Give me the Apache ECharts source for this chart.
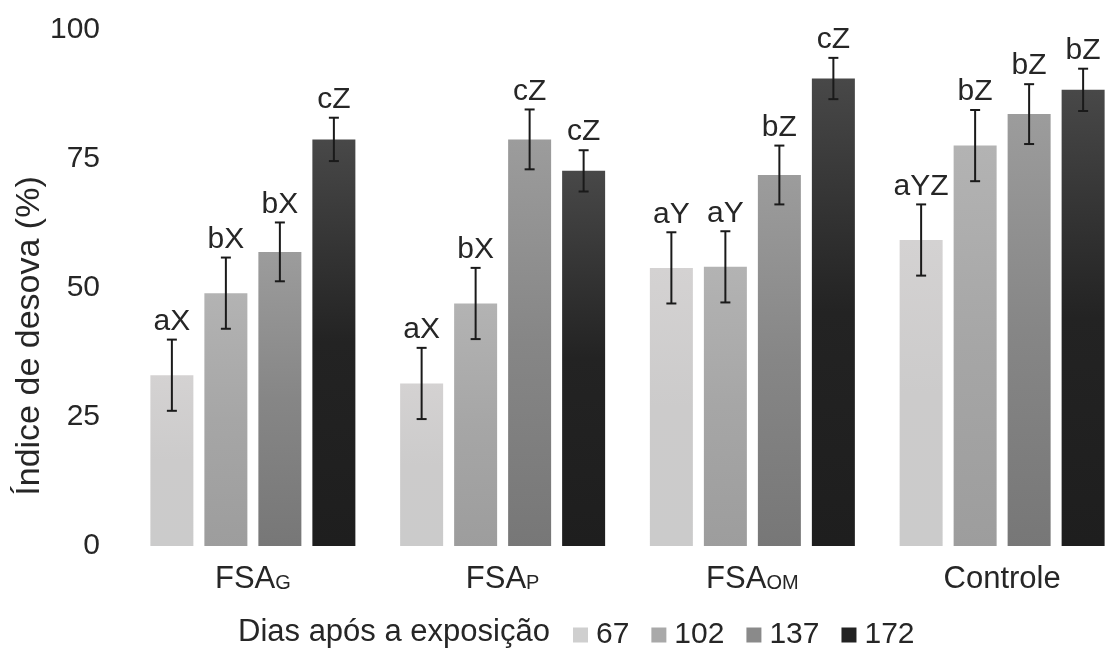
<!DOCTYPE html>
<html>
<head>
<meta charset="utf-8">
<script src="https://cdn.jsdelivr.net/npm/echarts@6/dist/echarts.min.js"></script>
<style>html,body{margin:0;padding:0;background:#fff;overflow:hidden;width:1105px;height:658px}#c{width:1128px;height:658px}</style>
</head>
<body>
<div id="c"></div>
<script>
const categories = ['FSAG', 'FSAP', 'FSAOM', 'Controle'];
const categoryMain = ['FSA', 'FSA', 'FSA', 'Controle'];
const categorySub = ['G', 'P', 'OM', ''];
const seriesNames = ['67', '102', '137', '172'];
const values67 = [33.1, 31.5, 53.9, 59.3];
const values102 = [49.0, 47.0, 54.1, 77.6];
const values137 = [57.0, 78.8, 71.9, 83.7];
const values172 = [78.8, 72.7, 90.6, 88.4];
const err67 = [6.9, 6.9, 6.9, 6.9];
const err102 = [6.9, 6.9, 6.9, 6.9];
const err137 = [5.7, 5.8, 5.7, 5.8];
const err172 = [4.2, 4.0, 4.0, 4.1];
const letters67 = ['aX', 'aX', 'aY', 'aYZ'];
const letters102 = ['bX', 'bX', 'aY', 'bZ'];
const letters137 = ['bX', 'cZ', 'bZ', 'bZ'];
const letters172 = ['cZ', 'cZ', 'cZ', 'bZ'];
const yTicks = [0, 25, 50, 75, 100];
const legendTitle = 'Dias após a exposição';
const yTitle = 'Índice de desova (%)';

const allValues = [values67, values102, values137, values172];
const allErr = [err67, err102, err137, err172];
const allLetters = [letters67, letters102, letters137, letters172];
const gradients = [
  ['#d4d2d2', '#cccbcb', '#cbcbcb'],
  ['#b3b3b3', '#a6a6a6', '#9d9d9d'],
  ['#9c9c9c', '#868686', '#777777'],
  ['#484848', '#232323', '#1e1e1e']
];
const legendColors = ['#cfcfcf', '#a9a9a9', '#8a8a8a', '#222222'];

const BAR_W = 43;
const GAP_PX = 11;
const FONT = '"Liberation Sans", Arial, sans-serif';
const TEXT_COLOR = '#262626';

const chart = echarts.init(document.getElementById('c'));

const series = [];
seriesNames.forEach((name, k) => {
  const g = gradients[k];
  series.push({
    name: name,
    type: 'bar',
    barWidth: BAR_W,
    barGap: (GAP_PX / BAR_W * 100).toFixed(2) + '%',
    itemStyle: {
      color: new echarts.graphic.LinearGradient(0, 0, 0, 1, [
        {offset: 0, color: g[0]},
        {offset: 0.5, color: g[1]},
        {offset: 1, color: g[2]}
      ])
    },
    data: allValues[k]
  });
});
seriesNames.forEach((name, k) => {
  series.push({
    type: 'custom',
    z: 5,
    silent: true,
    encode: {x: 0, y: 1},
    data: allValues[k].map((v, i) => [i, v, allErr[k][i]]),
    renderItem: function (params, api) {
      const ci = api.value(0), v = api.value(1), e = api.value(2);
      const top = api.coord([ci, v + e]);
      const bot = api.coord([ci, v - e]);
      const x = top[0] + (k - 1.5) * (BAR_W + GAP_PX);
      const style = {stroke: '#1a1a1a', lineWidth: 2};
      return {
        type: 'group',
        children: [
          {type: 'line', shape: {x1: x, y1: top[1], x2: x, y2: bot[1]}, style: style},
          {type: 'line', shape: {x1: x - 5, y1: top[1], x2: x + 5, y2: top[1]}, style: style},
          {type: 'line', shape: {x1: x - 5, y1: bot[1], x2: x + 5, y2: bot[1]}, style: style},
          {type: 'text', x: x, y: top[1] - 3, style: {
            text: allLetters[k][params.dataIndex], textAlign: 'center', textVerticalAlign: 'bottom',
            font: '30px ' + FONT, fill: TEXT_COLOR
          }}
        ]
      };
    }
  });
});

chart.setOption({
  animation: false,
  grid: {left: 128, width: 999, top: 30, height: 516},
  xAxis: {
    type: 'category',
    data: categories,
    axisLine: {show: false},
    axisTick: {show: false},
    axisLabel: {
      margin: 18,
      formatter: function (val, idx) {
        const i = categories.indexOf(val);
        return '{m|' + categoryMain[i] + '}' + (categorySub[i] ? '{s|' + categorySub[i] + '}' : '');
      },
      rich: {
        m: {fontSize: 31, fontFamily: FONT, color: TEXT_COLOR, lineHeight: 31, verticalAlign: 'bottom'},
        s: {fontSize: 20, fontFamily: FONT, color: TEXT_COLOR, lineHeight: 20, verticalAlign: 'bottom', padding: [0, 0, 2, 0]}
      }
    }
  },
  yAxis: {
    type: 'value',
    min: 0, max: 100, interval: 25,
    axisLine: {show: false},
    axisTick: {show: false},
    splitLine: {show: false},
    axisLabel: {
      margin: 28, fontSize: 30, fontFamily: FONT, color: TEXT_COLOR,
      formatter: function (v) { return yTicks.indexOf(v) >= 0 ? String(v) : ''; }
    }
  },
  legend: {
    left: 568, top: 615,
    itemWidth: 15, itemHeight: 15, itemGap: 22,
    icon: 'rect',
    textStyle: {fontSize: 30, fontFamily: FONT, color: TEXT_COLOR, padding: [0, 0, 0, 3]},
    data: seriesNames.map((n, k) => ({name: n, itemStyle: {color: legendColors[k]}}))
  },
  graphic: [
    {type: 'text', left: 238, top: 617, style: {text: legendTitle, font: '31px ' + FONT, fill: TEXT_COLOR}},
    {type: 'text', x: 30, y: 336, rotation: Math.PI / 2, style: {
      text: yTitle, font: '34px ' + FONT, fill: TEXT_COLOR, textAlign: 'center', textVerticalAlign: 'middle'
    }}
  ],
  series: series
});
</script>
</body>
</html>
